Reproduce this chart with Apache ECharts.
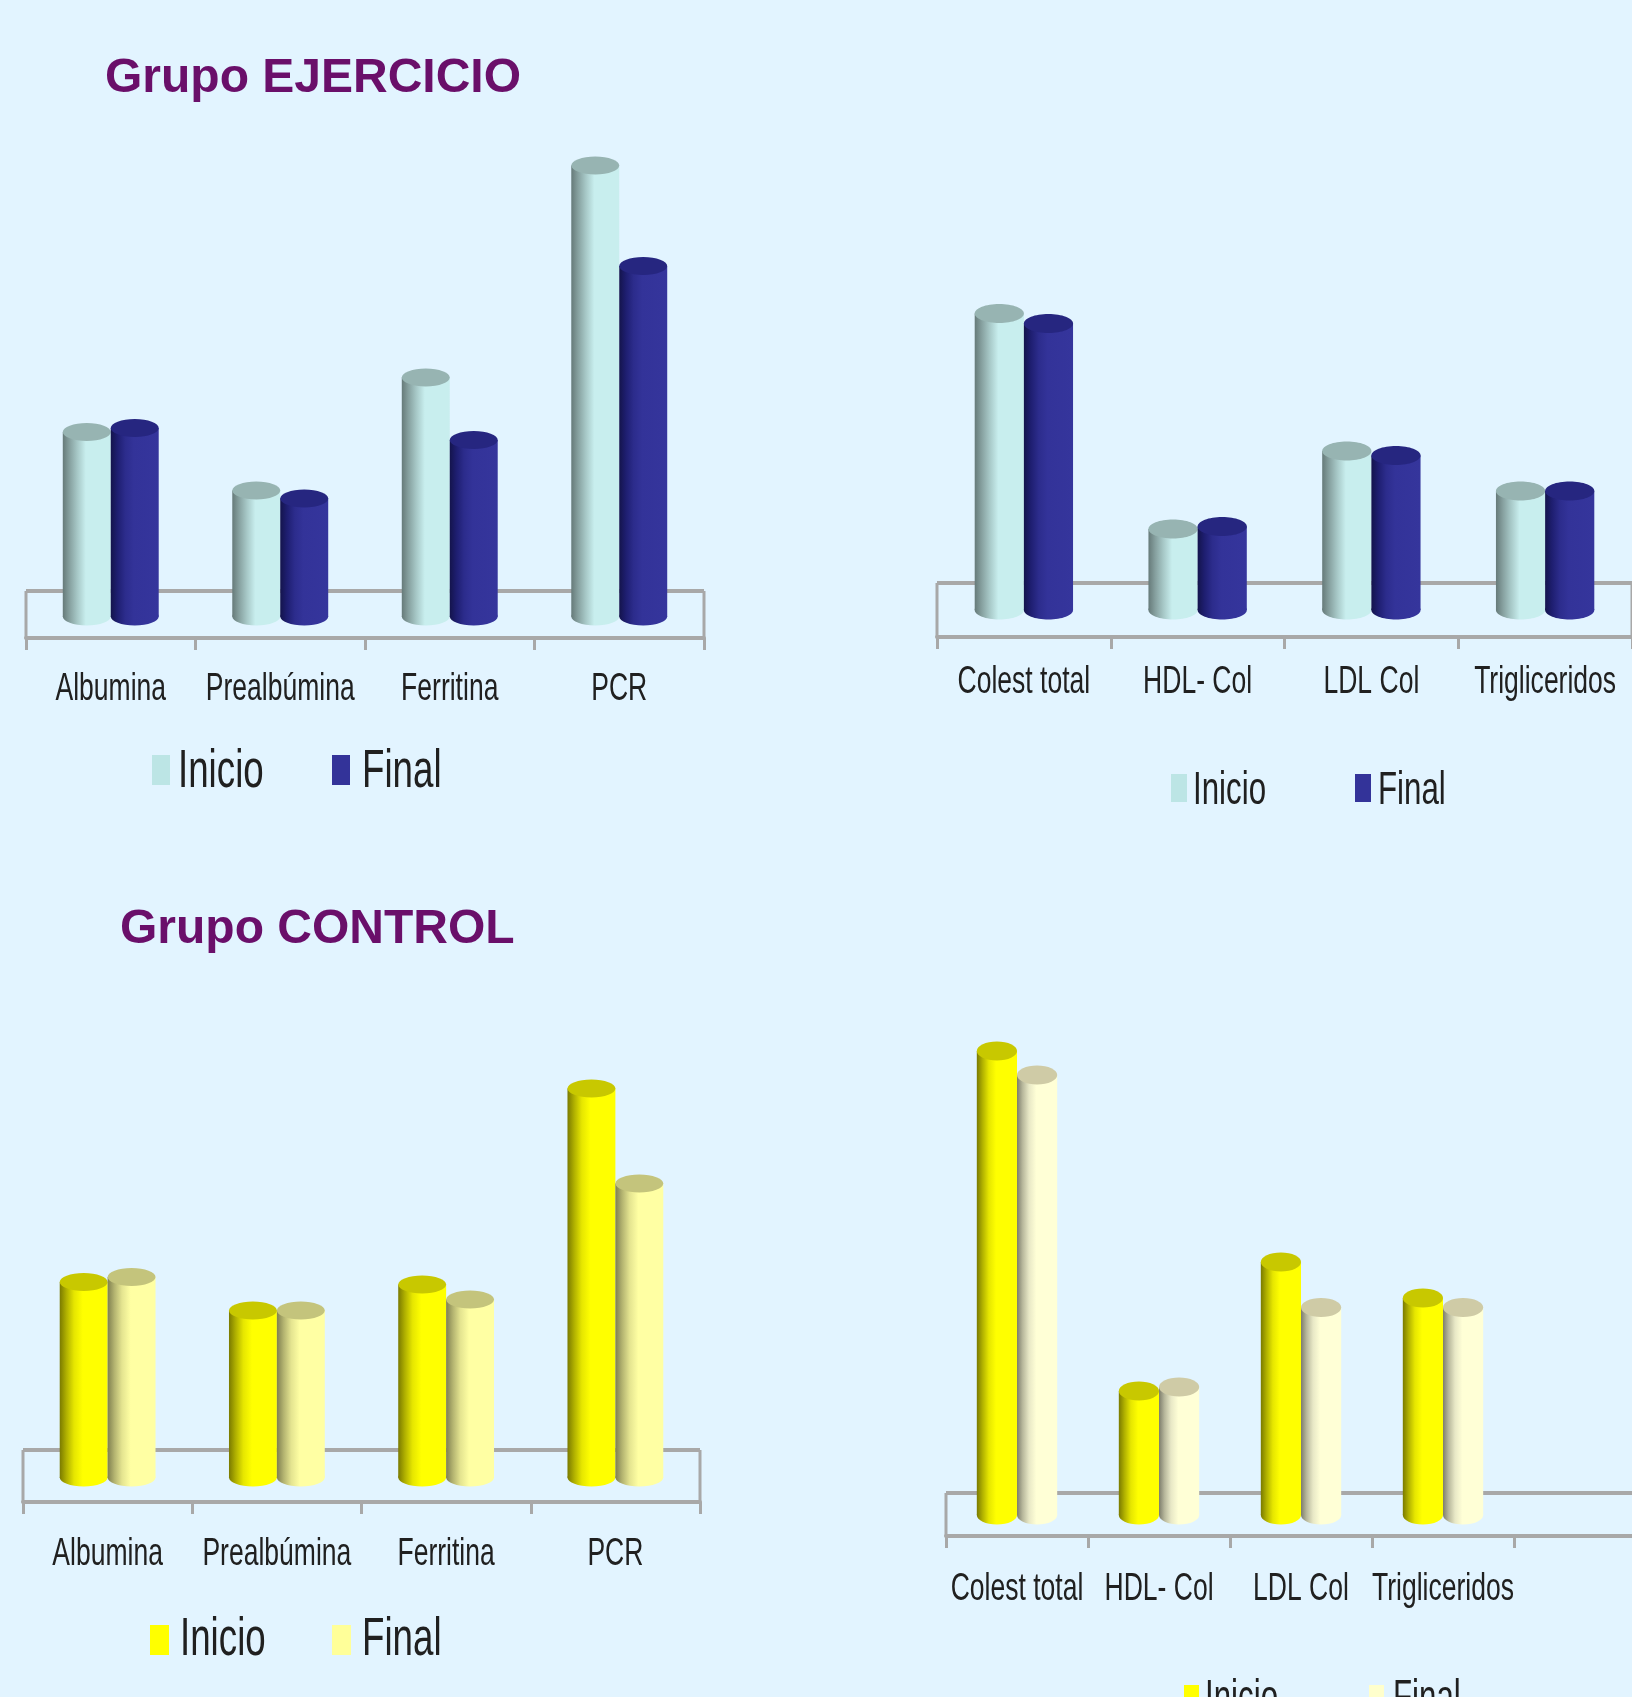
<!DOCTYPE html>
<html>
<head>
<meta charset="utf-8">
<title>Grupo EJERCICIO / Grupo CONTROL</title>
<script src="https://cdn.jsdelivr.net/npm/echarts@6/dist/echarts.min.js"></script>
<style>
  html, body { margin: 0; padding: 0; background: #e2f4ff; overflow: hidden; }
  #chart { width: 1632px; height: 1697px; }
</style>
</head>
<body>
<div id="chart"></div>
<script>
// Categories
const nutritionCategories = ['Albumina', 'Prealbúmina', 'Ferritina', 'PCR'];
const lipidCategories = ['Colest total', 'HDL- Col', 'LDL Col', 'Trigliceridos'];
// The last slot of the lower lipid panel is empty
const lipidCategoriesControl = ['Colest total', 'HDL- Col', 'LDL Col', 'Trigliceridos', ''];

// Values, relative units with no printed scale
const ejercicioNutricionInicio = [36.9, 25.2, 47.8, 90.2];
const ejercicioNutricionFinal = [37.7, 23.6, 35.3, 70.1];
const ejercicioLipidosInicio = [59.3, 16.2, 31.8, 23.8];
const ejercicioLipidosFinal = [57.3, 16.7, 30.9, 23.8];
const controlNutricionInicio = [39.1, 33.4, 38.6, 77.8];
const controlNutricionFinal = [40.1, 33.4, 35.6, 58.8];
const controlLipidosInicio = [92.8, 24.8, 50.6, 43.4];
const controlLipidosFinal = [88.0, 25.6, 41.5, 41.5];

const titles = ['Grupo EJERCICIO', 'Grupo CONTROL'];
const seriesNames = ['Inicio', 'Final'];

// Cylinder palettes: shaded side stops, lid colour, legend swatch
const aqua = {
  stops: ['#667a79', '#86a09f', '#a6c7c6', '#c8eeee', '#c8eeee'], lid: '#97b4b2', swatch: '#bce5e5'
};
const indigo = {
  stops: ['#14144c', '#1e1e70', '#2c2c8c', '#333399', '#35359c'], lid: '#262680', swatch: '#333399'
};
const yellow = {
  stops: ['#7a7a00', '#b0b000', '#e6e600', '#ffff00', '#ffff00'], lid: '#c8c800', swatch: '#ffff00'
};
const paleYellow = {
  stops: ['#7f7f50', '#b3b370', '#e4e490', '#ffffa3', '#ffffa3'], lid: '#c4c47c', swatch: '#ffff99'
};
const cream = {
  stops: ['#7d7d6c', '#b8b89c', '#e8e8c6', '#ffffd6', '#ffffd6'], lid: '#cfcba6', swatch: '#ffffcc'
};

const panels = [
  {
    categories: nutritionCategories, inicio: ejercicioNutricionInicio, fin: ejercicioNutricionFinal,
    palettes: [aqua, indigo], left: 26, width: 678, base: 616.5, front: 638, back: 591, ry: 9, labelCy: 689,
    legend: { cy: 772, size: 54, swatchTop: 755, swatchW: 18, swatchH: 30, swatchX: [152, 332], textX: [178, 362] }
  },
  {
    categories: lipidCategories, inicio: ejercicioLipidosInicio, fin: ejercicioLipidosFinal,
    palettes: [aqua, indigo], left: 937, width: 695, base: 610, front: 637, back: 583, ry: 9.5, labelCy: 682,
    legend: { cy: 791, size: 46, swatchTop: 774, swatchW: 16, swatchH: 28, swatchX: [1171, 1355], textX: [1193, 1378] }
  },
  {
    categories: nutritionCategories, inicio: controlNutricionInicio, fin: controlNutricionFinal,
    palettes: [yellow, paleYellow], left: 23, width: 677, base: 1477.5, front: 1502, back: 1450, ry: 9, labelCy: 1554,
    legend: { cy: 1640, size: 54, swatchTop: 1625, swatchW: 19, swatchH: 30, swatchX: [150, 332], textX: [180, 362] }
  },
  {
    categories: lipidCategoriesControl, inicio: controlLipidosInicio, fin: controlLipidosFinal,
    palettes: [yellow, cream], left: 946, width: 710, base: 1515, front: 1536, back: 1493, ry: 9.5, labelCy: 1589,
    legend: { cy: 1699, size: 46, swatchTop: 1685, swatchW: 15, swatchH: 28, swatchX: [1184, 1369], textX: [1205, 1393] }
  }
];

const CYLINDER_SHARE = 0.283;   // cylinder width as a share of its category slot
const GRID_HEIGHT = 500;
const LABEL_FONT_SIZE = 39;
const TEXT_SQUEEZE = 0.68;      // horizontal condensation of axis and legend text
const TEXT_FONT = '"Liberation Sans", Arial, sans-serif';
const TEXT_COLOR = '#202020';
const FLOOR_COLOR = '#a8a8a8';

function bodyFill(palette) {
  const offsets = [0, 0.14, 0.3, 0.48, 1];
  return {
    type: 'linear', x: 0, y: 0, x2: 1, y2: 0,
    colorStops: palette.stops.map((color, k) => ({ offset: offsets[k], color }))
  };
}

// One upright cylinder per data item, positioned through the grid's scales
function cylinderRenderer(palette, side, ry) {
  return function (params, api) {
    const base = api.coord([api.value(0), 0]);
    const top = api.coord([api.value(0), api.value(1)]);
    const w = api.size([1, 0])[0] * CYLINDER_SHARE;
    const cx = base[0] + side * w / 2;
    const fill = bodyFill(palette);
    return {
      type: 'group',
      children: [
        { type: 'rect', shape: { x: cx - w / 2, y: top[1], width: w, height: base[1] - top[1] }, style: { fill } },
        { type: 'ellipse', shape: { cx, cy: base[1], rx: w / 2, ry }, style: { fill } },
        { type: 'ellipse', shape: { cx, cy: top[1], rx: w / 2, ry }, style: { fill: palette.lid } }
      ]
    };
  };
}

// Back edge and side edges of the floor behind the cylinders
function floorRenderer(panel) {
  return function (params) {
    const cs = params.coordSys;
    const line = (x1, y1, x2, y2, lineWidth) => ({
      type: 'line', shape: { x1, y1, x2, y2 }, style: { stroke: FLOOR_COLOR, lineWidth }
    });
    return {
      type: 'group',
      children: [
        line(cs.x, panel.back, cs.x + cs.width, panel.back, 4),
        line(cs.x, panel.back, cs.x, panel.front, 3),
        line(cs.x + cs.width, panel.back, cs.x + cs.width, panel.front, 3)
      ]
    };
  };
}

// Condensed category labels centred under each slot
function labelRenderer(panel) {
  return function (params, api) {
    const i = api.value(0);
    return {
      type: 'text',
      x: api.coord([i, 0])[0],
      y: panel.labelCy,
      scaleX: TEXT_SQUEEZE,
      style: {
        text: panel.categories[i], fill: TEXT_COLOR, align: 'center', verticalAlign: 'middle',
        font: LABEL_FONT_SIZE + 'px ' + TEXT_FONT
      }
    };
  };
}

// Swatch and condensed caption of each series, per panel
function legendElements(panel) {
  const lg = panel.legend;
  const out = [];
  seriesNames.forEach((name, k) => {
    out.push({
      type: 'rect',
      shape: { x: lg.swatchX[k], y: lg.swatchTop, width: lg.swatchW, height: lg.swatchH },
      style: { fill: panel.palettes[k].swatch }
    });
    out.push({
      type: 'text', x: lg.textX[k], y: lg.cy, scaleX: TEXT_SQUEEZE,
      style: {
        text: name, fill: TEXT_COLOR, align: 'left', verticalAlign: 'middle',
        font: lg.size + 'px ' + TEXT_FONT
      }
    });
  });
  return out;
}

const option = {
  backgroundColor: '#e2f4ff',
  animation: false,
  title: [
    { text: titles[0], left: 100, top: 50 },
    { text: titles[1], left: 115, top: 901 }
  ].map(t => ({
    ...t,
    textStyle: { color: '#6a0f6a', fontSize: 48, fontWeight: 'bold', fontFamily: TEXT_FONT }
  })),
  grid: [], xAxis: [], yAxis: [], series: [],
  graphic: { elements: panels.flatMap(legendElements) }
};

panels.forEach((panel, idx) => {
  option.grid.push({
    left: panel.left, width: panel.width, top: panel.base - GRID_HEIGHT, height: GRID_HEIGHT,
    outerBoundsMode: 'none'
  });
  option.xAxis.push({
    type: 'category', gridIndex: idx, data: panel.categories, offset: panel.front - panel.base,
    axisLine: { show: true, onZero: false, lineStyle: { color: FLOOR_COLOR, width: 4 } },
    axisTick: { show: true, length: 12, lineStyle: { color: FLOOR_COLOR, width: 3 } },
    axisLabel: { show: false },
    splitLine: { show: false }
  });
  option.yAxis.push({ type: 'value', gridIndex: idx, min: 0, max: 100, show: false, splitLine: { show: false } });

  option.series.push({
    type: 'custom', name: 'floor', xAxisIndex: idx, yAxisIndex: idx, silent: true, z: 1, clip: false,
    renderItem: floorRenderer(panel), data: [[0, 0]], tooltip: { show: false }
  });
  [panel.inicio, panel.fin].forEach((values, k) => {
    option.series.push({
      type: 'custom', name: seriesNames[k], xAxisIndex: idx, yAxisIndex: idx, z: 2 + k, clip: false,
      itemStyle: { color: panel.palettes[k].swatch },
      encode: { x: 0, y: 1 },
      renderItem: cylinderRenderer(panel.palettes[k], k === 0 ? -1 : 1, panel.ry),
      data: values.map((v, i) => [i, v])
    });
  });
  option.series.push({
    type: 'custom', name: 'labels', xAxisIndex: idx, yAxisIndex: idx, silent: true, z: 4, clip: false,
    renderItem: labelRenderer(panel), data: panel.categories.map((c, i) => [i, 0]), tooltip: { show: false }
  });
});

const chart = echarts.init(document.getElementById('chart'), null, { renderer: 'canvas' });
chart.setOption(option);
</script>
</body>
</html>
